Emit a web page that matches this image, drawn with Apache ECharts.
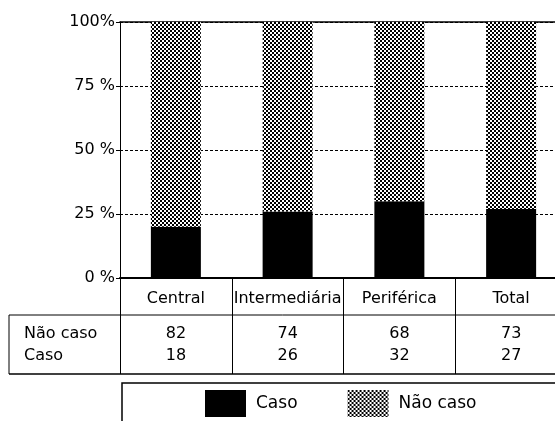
<!DOCTYPE html>
<html><head><meta charset="utf-8">
<script src="https://cdn.jsdelivr.net/npm/echarts@6/dist/echarts.min.js"></script>
<style>html,body{margin:0;padding:0;background:#fff}#c{width:555px;height:421px}</style>
</head><body><div id="c"></div>
<script>
const categories = ['Central', 'Intermediária', 'Periférica', 'Total'];
const casoBar = [20, 26, 30, 27];
const naoCasoBar = [80, 74, 70, 73];
const tableNaoCaso = ['82', '74', '68', '73'];
const tableCaso = ['18', '26', '32', '27'];
const rowLabels = ['Não caso', 'Caso'];
const yTicks = [0, 25, 50, 75, 100];
const yTickLabels = ['0 %', '25 %', '50 %', '75 %', '100%'];
const legendNames = ['Caso', 'Não caso'];

const FONT = 'DejaVu Sans';
const pc = document.createElement('canvas'); pc.width = 4; pc.height = 4;
const g = pc.getContext('2d');
g.fillStyle = '#fff'; g.fillRect(0, 0, 4, 4);
g.fillStyle = '#000'; g.fillRect(0, 0, 2, 2); g.fillRect(2, 2, 2, 2);
const pattern = { image: pc, repeat: 'repeat' };

const chart = echarts.init(document.getElementById('c'), null, { renderer: 'canvas' });
const L = 120, T = 22, W = 447, H = 256;
const txt = { color: '#000', fontFamily: FONT, fontSize: 16 };
function rowAxis(data, margin) {
  return { type: 'category', data: data, position: 'bottom', gridIndex: 0,
    axisLine: { show: false, onZero: false }, axisTick: { show: false },
    axisLabel: Object.assign({ interval: 0, margin: margin }, txt), splitLine: { show: false } };
}
const option = {
  animation: false,
  grid: { left: L, top: T, width: W, height: H, outerBoundsMode: 'none', containLabel: false },
  xAxis: [
    { type: 'category', data: categories, position: 'bottom',
      axisLine: { onZero: false, lineStyle: { color: '#000', width: 2 } },
      axisTick: { show: true, length: 96, interval: 0, lineStyle: { color: '#000', width: 1 } },
      axisLabel: Object.assign({ interval: 0, margin: 13 }, txt) },
    rowAxis(tableNaoCaso, 48),
    rowAxis(tableCaso, 70),
    { type: 'category', data: categories, position: 'top',
      axisLine: { onZero: false, lineStyle: { color: '#000', width: 1.5 } },
      axisTick: { show: false }, axisLabel: { show: false } }
  ],
  yAxis: {
    type: 'value', min: 0, max: 100, interval: 25,
    axisLine: { show: true, onZero: false, lineStyle: { color: '#000', width: 1 } },
    axisTick: { show: true, length: 4, lineStyle: { color: '#000' } },
    axisLabel: Object.assign({ margin: 5, formatter: v => yTickLabels[yTicks.indexOf(v)] }, txt),
    splitLine: { show: true, lineStyle: { type: [3, 2], color: '#000', width: 1 } }
  },
  legend: {
    left: 205, top: 390, padding: 0, itemWidth: 41, itemHeight: 27, itemGap: 50,
    icon: 'rect', data: legendNames, selectedMode: false,
    textStyle: { color: '#000', fontFamily: FONT, fontSize: 17, padding: [0, 0, 0, 5] }
  },
  series: [
    { name: legendNames[0], type: 'bar', stack: 's', data: casoBar, barWidth: 50, itemStyle: { color: '#000' } },
    { name: legendNames[1], type: 'bar', stack: 's', data: naoCasoBar, barWidth: 50, itemStyle: { color: pattern } }
  ],
  graphic: [
    { type: 'text', left: 24, top: 326, style: { text: rowLabels[0], fill: '#000', font: '16px ' + FONT } },
    { type: 'text', left: 24, top: 348, style: { text: rowLabels[1], fill: '#000', font: '16px ' + FONT } },
    { type: 'line', shape: { x1: 9, y1: 315, x2: 560, y2: 315 }, style: { stroke: '#000', lineWidth: 1 } },
    { type: 'line', shape: { x1: 9, y1: 374, x2: 560, y2: 374 }, style: { stroke: '#000', lineWidth: 1.5 } },
    { type: 'line', shape: { x1: 9, y1: 315, x2: 9, y2: 374 }, style: { stroke: '#000', lineWidth: 1 } },
    { type: 'polyline', shape: { points: [[122, 430], [122, 383], [560, 383]] }, style: { stroke: '#000', fill: null, lineWidth: 1.5 } }
  ]
};
chart.setOption(option);
</script></body></html>
